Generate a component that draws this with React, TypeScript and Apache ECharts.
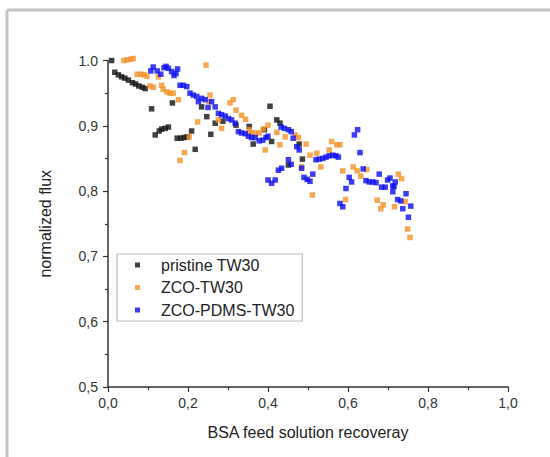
import React, { useEffect, useRef } from "react";
import * as echarts from "echarts";

const seriesNames = ["pristine TW30", "ZCO-TW30", "ZCO-PDMS-TW30"];

const pristineX = [0.009,0.017,0.026,0.034,0.042,0.051,0.061,0.069,0.077,0.086,0.093,0.109,0.118,0.128,0.134,0.143,0.151,0.161,0.173,0.182,0.190,0.198,0.209,0.218,0.234,0.247,0.257,0.268,0.287,0.320,0.353,0.363,0.391,0.405,0.409,0.422,0.430,0.451,0.478,0.486];
const pristineY = [1.000,0.982,0.978,0.975,0.973,0.970,0.966,0.964,0.961,0.959,0.957,0.926,0.886,0.892,0.895,0.896,0.898,0.935,0.881,0.881,0.882,0.883,0.892,0.864,0.929,0.914,0.887,0.904,0.907,0.901,0.899,0.872,0.894,0.930,0.876,0.909,0.904,0.840,0.872,0.849];

const zcoX = [0.040,0.048,0.057,0.063,0.073,0.082,0.090,0.097,0.105,0.113,0.126,0.134,0.138,0.147,0.155,0.163,0.176,0.180,0.191,0.203,0.224,0.245,0.253,0.255,0.276,0.284,0.305,0.313,0.320,0.334,0.344,0.353,0.358,0.368,0.378,0.388,0.393,0.400,0.422,0.430,0.443,0.468,0.476,0.484,0.495,0.505,0.511,0.522,0.532,0.553,0.559,0.572,0.580,0.587,0.594,0.613,0.623,0.632,0.647,0.673,0.682,0.688,0.716,0.726,0.734,0.743,0.749,0.755];
const zcoY = [1.000,1.001,1.002,1.003,0.979,0.979,0.978,0.976,0.961,0.959,0.975,0.962,0.956,0.952,0.950,0.950,0.940,0.847,0.859,0.883,0.906,0.993,0.937,0.947,0.909,0.896,0.935,0.940,0.924,0.916,0.910,0.894,0.889,0.889,0.889,0.895,0.863,0.901,0.890,0.871,0.883,0.886,0.882,0.837,0.872,0.855,0.794,0.858,0.837,0.863,0.876,0.871,0.871,0.831,0.787,0.837,0.831,0.823,0.833,0.786,0.773,0.779,0.776,0.826,0.819,0.784,0.742,0.729];

const pdmsX = [0.107,0.113,0.123,0.132,0.140,0.145,0.151,0.159,0.165,0.170,0.174,0.180,0.188,0.197,0.205,0.213,0.222,0.226,0.234,0.243,0.250,0.259,0.268,0.276,0.284,0.293,0.301,0.309,0.318,0.326,0.334,0.343,0.351,0.359,0.368,0.378,0.387,0.395,0.400,0.400,0.409,0.418,0.426,0.434,0.433,0.441,0.451,0.458,0.463,0.472,0.478,0.451,0.458,0.484,0.490,0.498,0.505,0.512,0.520,0.528,0.537,0.545,0.553,0.562,0.570,0.576,0.580,0.587,0.595,0.603,0.609,0.616,0.624,0.630,0.638,0.645,0.653,0.662,0.670,0.678,0.684,0.693,0.699,0.705,0.712,0.718,0.715,0.712,0.724,0.732,0.737,0.745,0.751,0.757];
const pdmsY = [0.984,0.990,0.984,0.979,0.989,0.991,0.988,0.983,0.977,0.980,0.987,0.962,0.962,0.960,0.950,0.947,0.945,0.937,0.942,0.940,0.928,0.937,0.929,0.919,0.917,0.915,0.911,0.909,0.904,0.891,0.889,0.888,0.884,0.882,0.882,0.877,0.878,0.882,0.884,0.817,0.812,0.817,0.832,0.835,0.898,0.896,0.894,0.891,0.881,0.868,0.863,0.848,0.841,0.835,0.821,0.818,0.815,0.826,0.848,0.849,0.850,0.852,0.854,0.855,0.854,0.852,0.781,0.776,0.804,0.821,0.814,0.886,0.894,0.859,0.834,0.816,0.814,0.814,0.813,0.826,0.806,0.806,0.817,0.820,0.808,0.814,0.807,0.799,0.787,0.785,0.773,0.796,0.760,0.777];

const colors = ["#111111", "#f39125", "#0c0cf0"];

const xTicks = ["0,0", "0,2", "0,4", "0,6", "0,8", "1,0"];
const yTicks = ["0,5", "0,6", "0,7", "0,8", "0,9", "1.0"];

const zip = (xs: number[], ys: number[]) => xs.map((x, i) => [x, ys[i]]);

export default function App() {
  const ref = useRef<HTMLDivElement>(null);
  useEffect(() => {
    if (!ref.current) return;
    const chart = echarts.init(ref.current, null, { renderer: "svg" });
    const datasets = [zip(pristineX, pristineY), zip(zcoX, zcoY), zip(pdmsX, pdmsY)];
    const axisCommon = {
      axisLine: { show: true, lineStyle: { color: "#333", width: 1.5 } },
      axisTick: { show: true, inside: false, length: 5, lineStyle: { color: "#333", width: 1.2 } },
      minorTick: { show: true, splitNumber: 2, length: 3, lineStyle: { color: "#333", width: 1.2 } },
      splitLine: { show: false },
    };
    chart.setOption({
      animation: false,
      backgroundColor: "#ffffff",
      color: colors,
      graphic: [
        { type: "line", shape: { x1: 7, y1: 10, x2: 550, y2: 10 }, style: { stroke: "#c4c4c4", lineWidth: 3 } },
        { type: "line", shape: { x1: 7, y1: 10, x2: 7, y2: 457 }, style: { stroke: "#c4c4c4", lineWidth: 3 } },
      ],
      grid: { left: 108, right: 42, top: 60.5, bottom: 70 },
      xAxis: {
        type: "value",
        min: 0,
        max: 1,
        interval: 0.2,
        name: "BSA feed solution recoveray",
        nameLocation: "middle",
        nameGap: 37,
        nameTextStyle: { fontFamily: "Liberation Sans", fontSize: 16, color: "#222" },
        axisLabel: {
          fontFamily: "Liberation Sans",
          fontSize: 14,
          color: "#333",
          margin: 9,
          formatter: (v: number) => xTicks[Math.round(v / 0.2)],
        },
        ...axisCommon,
      },
      yAxis: {
        type: "value",
        min: 0.5,
        max: 1.0,
        interval: 0.1,
        name: "normalized flux",
        nameLocation: "middle",
        nameGap: 55,
        nameTextStyle: { fontFamily: "Liberation Sans", fontSize: 16, color: "#222" },
        axisLabel: {
          fontFamily: "Liberation Sans",
          fontSize: 14,
          color: "#333",
          margin: 10,
          formatter: (v: number) => yTicks[Math.round((v - 0.5) / 0.1)],
        },
        ...axisCommon,
      },
      legend: {
        orient: "vertical",
        left: 117,
        top: 254,
        padding: [3, 8, 3, 18],
        itemGap: 6.5,
        itemWidth: 5,
        itemHeight: 5,
        icon: "rect",
        borderColor: "#bbbbbb",
        borderWidth: 1.2,
        textStyle: { fontFamily: "Liberation Sans", fontSize: 16, color: "#222", lineHeight: 16, padding: [0, 0, 0, 16] },
        data: seriesNames,
      },
      series: seriesNames.map((name, i) => ({
        name,
        type: "scatter",
        symbol: "rect",
        symbolSize: 5.5,
        clip: false,
        itemStyle: { color: colors[i] },
        data: datasets[i],
      })),
    });
    return () => chart.dispose();
  }, []);
  return (
    <div
      ref={ref}
      style={{ position: "fixed", left: 0, top: 0, width: 550, height: 457, background: "#fff" }}
    />
  );
}
